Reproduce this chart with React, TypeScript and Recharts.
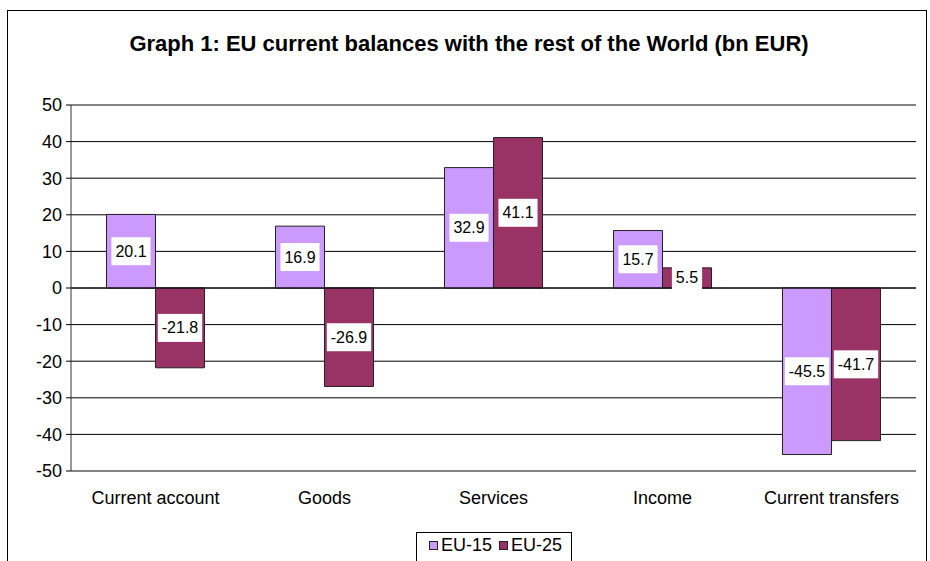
import { Bar, BarChart, CartesianGrid, LabelList, ReferenceLine, XAxis, YAxis } from "recharts";

const categories = ["Current account", "Goods", "Services", "Income", "Current transfers"];
const eu15 = [20.1, 16.9, 32.9, 15.7, -45.5];
const eu25 = [-21.8, -26.9, 41.1, 5.5, -41.7];
const yTicks = [-50, -40, -30, -20, -10, 0, 10, 20, 30, 40, 50];

const series = [
  { key: "eu15", name: "EU-15", color: "#CC99FF" },
  { key: "eu25", name: "EU-25", color: "#993366" },
];

const data = categories.map((label, i) => ({ label, eu15: eu15[i], eu25: eu25[i] }));

const FONT = '"Liberation Sans", Arial, sans-serif';

// rough Arial advance widths at 16px
function textWidth(s: string) {
  let w = 0;
  for (const ch of s) w += ch === "." ? 4.4 : ch === "-" ? 5.3 : 8.9;
  return w;
}

function ValueBox(props: any) {
  const { x, y, width, height, value } = props;
  if (value == null) return null;
  const text = String(value);
  const cx = Number(x) + Number(width) / 2;
  const cy = Number(y) + Number(height) / 2;
  const w = textWidth(text) + 8;
  const h = 28;
  return (
    <g>
      <rect x={cx - w / 2} y={cy - h / 2} width={w} height={h} fill="#fff" />
      <text x={cx} y={cy} textAnchor="middle" dominantBaseline="central" fontSize={16} fill="#000" fontFamily={FONT}>
        {text}
      </text>
    </g>
  );
}

export default function App() {
  return (
    <div style={{ position: "absolute", left: 0, top: 0, width: 930, height: 561, overflow: "hidden", background: "#fff", fontFamily: FONT }}>
      <div style={{ position: "absolute", left: 7, top: 10, width: 918, height: 600, border: "1px solid #000" }} />
      <div style={{ position: "absolute", left: 0, top: 31, width: 938, textAlign: "center", fontWeight: "bold", fontSize: 22 }}>
        Graph 1: EU current balances with the rest of the World (bn EUR)
      </div>
      <div style={{ position: "absolute", left: 0, top: 0 }}>
        <BarChart
          width={930}
          height={561}
          data={data}
          margin={{ top: 105, right: 14, bottom: 60, left: 0 }}
          barCategoryGap="21%"
          barGap={0}
        >
          <CartesianGrid vertical={false} stroke="#000" strokeDasharray="" />
          <XAxis
            dataKey="label"
            height={30}
            axisLine={false}
            tickLine={false}
            tickSize={0}
            tickMargin={20}
            interval={0}
            tick={{ fill: "#000", fontSize: 18, fontFamily: FONT }}
          />
          <YAxis
            width={71}
            domain={[-50, 50]}
            ticks={yTicks}
            interval={0}
            axisLine={{ stroke: "#333" }}
            tickLine={{ stroke: "#000" }}
            tickSize={5}
            tickMargin={4}
            tick={{ fill: "#000", fontSize: 18, fontFamily: FONT }}
          />
          <YAxis yAxisId="edge" orientation="right" width={0} tick={false} tickLine={false} axisLine={{ stroke: "#999" }} />
          <ReferenceLine y={50} stroke="#888" />
          <ReferenceLine y={-50} stroke="#888" />
          <ReferenceLine y={0} stroke="#000" />
          {series.map((s) => (
            <Bar key={s.key} dataKey={s.key} name={s.name} fill={s.color} stroke="#222" strokeWidth={1} isAnimationActive={false}>
              <LabelList dataKey={s.key} content={ValueBox} />
            </Bar>
          ))}
        </BarChart>
      </div>
      <div
        style={{
          position: "absolute",
          left: 416,
          top: 532,
          width: 154,
          height: 60,
          border: "1px solid #000",
          background: "#fff",
          fontSize: 18,
          whiteSpace: "nowrap",
        }}
      >
        <div style={{ display: "flex", alignItems: "center", paddingLeft: 12, paddingTop: 2 }}>
          {series.map((s) => (
            <div key={s.key} style={{ display: "flex", alignItems: "center", marginRight: 7, flexShrink: 0 }}>
              <span style={{ display: "inline-block", width: 7, height: 7, background: s.color, border: "1px solid #222", marginRight: 3 }} />
              <span>{s.name}</span>
            </div>
          ))}
        </div>
      </div>
    </div>
  );
}
